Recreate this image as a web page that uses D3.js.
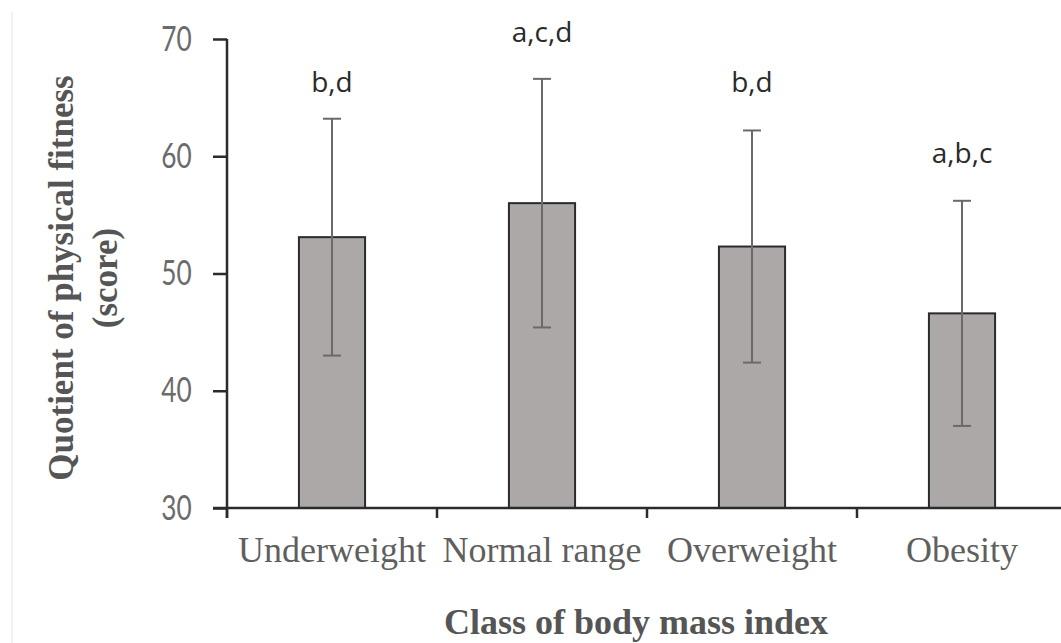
<!DOCTYPE html>
<html>
<head>
<meta charset="utf-8">
<script src="https://cdn.jsdelivr.net/npm/d3@7"></script>
<style>
  body { margin: 0; background: #fff; }
  svg { display: block; }
</style>
</head>
<body>
<div id="chart"></div>
<script>
// chart values
var categories = ["Underweight", "Normal range", "Overweight", "Obesity"];
var means = [53.1, 56.0, 52.3, 46.6];
var sds = [10.1, 10.6, 9.9, 9.6];
var letters = ["b,d", "a,c,d", "b,d", "a,b,c"];
var letterAt = [66.3, 70.6, 66.3, 60.3];   // where the letters sit, in score units
var yTicks = [30, 40, 50, 60, 70];

var width = 1061, height = 643;

var svg = d3.select("#chart")
            .append("svg")
            .attr("width", width)
            .attr("height", height);

// faint frame line on the left
svg.append("line")
   .attr("x1", 12).attr("x2", 12).attr("y1", 12).attr("y2", height)
   .attr("stroke", "#eeeeee").attr("stroke-width", 1.5);

var x = d3.scaleBand().domain(categories).range([227, 1067]).padding(0);
var y = d3.scaleLinear().domain([30, 70]).range([508, 39]);
var barW = x.bandwidth() * 0.315;

// bars
svg.selectAll(".bar")
   .data(categories)
   .enter().append("rect")
   .attr("class", "bar")
   .attr("x", function(d){ return x(d) + x.bandwidth() / 2 - barW / 2; })
   .attr("y", function(d, i){ return y(means[i]); })
   .attr("width", barW)
   .attr("height", function(d, i){ return y(30) - y(means[i]); })
   .attr("fill", "#aba8a7")
   .attr("stroke", "#2b2b2b")
   .attr("stroke-width", 2);

// error bars
var err = svg.selectAll(".err")
   .data(categories)
   .enter().append("g")
   .attr("class", "err")
   .attr("stroke", "#6a6a6a")
   .attr("stroke-width", 2);

err.append("line")
   .attr("x1", function(d){ return x(d) + x.bandwidth() / 2; })
   .attr("x2", function(d){ return x(d) + x.bandwidth() / 2; })
   .attr("y1", function(d, i){ return y(means[i] + sds[i]); })
   .attr("y2", function(d, i){ return y(means[i] - sds[i]); });

[1, -1].forEach(function(s){
  err.append("line")
     .attr("x1", function(d){ return x(d) + x.bandwidth() / 2 - 9; })
     .attr("x2", function(d){ return x(d) + x.bandwidth() / 2 + 9; })
     .attr("y1", function(d, i){ return y(means[i] + s * sds[i]); })
     .attr("y2", function(d, i){ return y(means[i] + s * sds[i]); });
});

// significance letters
svg.selectAll(".letter")
   .data(categories)
   .enter().append("text")
   .attr("class", "letter")
   .attr("x", function(d){ return x(d) + x.bandwidth() / 2; })
   .attr("y", function(d, i){ return y(letterAt[i]); })
   .attr("dy", "0.35em")
   .attr("text-anchor", "middle")
   .attr("font-family", "'Open Sans', sans-serif")
   .attr("font-size", 28)
   .attr("fill", "#2a2a2a")
   .text(function(d, i){ return letters[i]; });

// y axis (narrow, tall digits like the original)
var yAxis = d3.axisLeft(y).tickValues(yTicks).tickSize(14).tickPadding(33).tickSizeOuter(0);
var yG = svg.append("g").attr("transform", "translate(227,0)").call(yAxis);
yG.select(".domain").attr("d", "M0," + y(70) + "V" + (y(30) + 10));
yG.selectAll("line, path").attr("stroke", "#2b2b2b").attr("stroke-width", 2.5);
yG.selectAll("text")
  .attr("font-family", "Lato, sans-serif")
  .attr("font-size", 35)
  .attr("transform", "scale(0.75,1)")
  .attr("fill", "#6b6b6b");

// x axis: line, ticks at band edges, labels at centres
var xAxis = d3.axisBottom(x).tickSize(0).tickPadding(28);
var xG = svg.append("g").attr("transform", "translate(0," + y(30) + ")").call(xAxis);
xG.select(".domain").attr("d", "M213,0H" + width).attr("stroke", "#2b2b2b").attr("stroke-width", 2.5);
xG.selectAll("text")
  .attr("font-family", "'Liberation Serif', 'Times New Roman', serif")
  .attr("font-size", 36)
  .attr("fill", "#5f5f5f");

var edges = categories.map(function(d){ return x(d); }).concat([x.range()[1]]);
xG.selectAll(".edge")
  .data(edges)
  .enter().append("line")
  .attr("class", "edge")
  .attr("x1", function(d){ return d; })
  .attr("x2", function(d){ return d; })
  .attr("y1", 0).attr("y2", 10)
  .attr("stroke", "#2b2b2b").attr("stroke-width", 2.5);

// axis titles
svg.append("text")
   .attr("x", 636).attr("y", 634)
   .attr("text-anchor", "middle")
   .attr("font-family", "'Liberation Serif', 'Times New Roman', serif")
   .attr("font-weight", "bold")
   .attr("font-size", 36)
   .attr("fill", "#555")
   .text("Class of body mass index");

var yTitle = svg.append("text")
   .attr("transform", "translate(61,278) rotate(-90)")
   .attr("text-anchor", "middle")
   .attr("font-family", "'Liberation Serif', 'Times New Roman', serif")
   .attr("font-weight", "bold")
   .attr("font-size", 35)
   .attr("fill", "#555");
yTitle.append("tspan").attr("x", 0).attr("dy", "0.35em").text("Quotient of physical fitness");
yTitle.append("tspan").attr("x", 0).attr("dy", "1.25em").text("(score)");
</script>
</body>
</html>
